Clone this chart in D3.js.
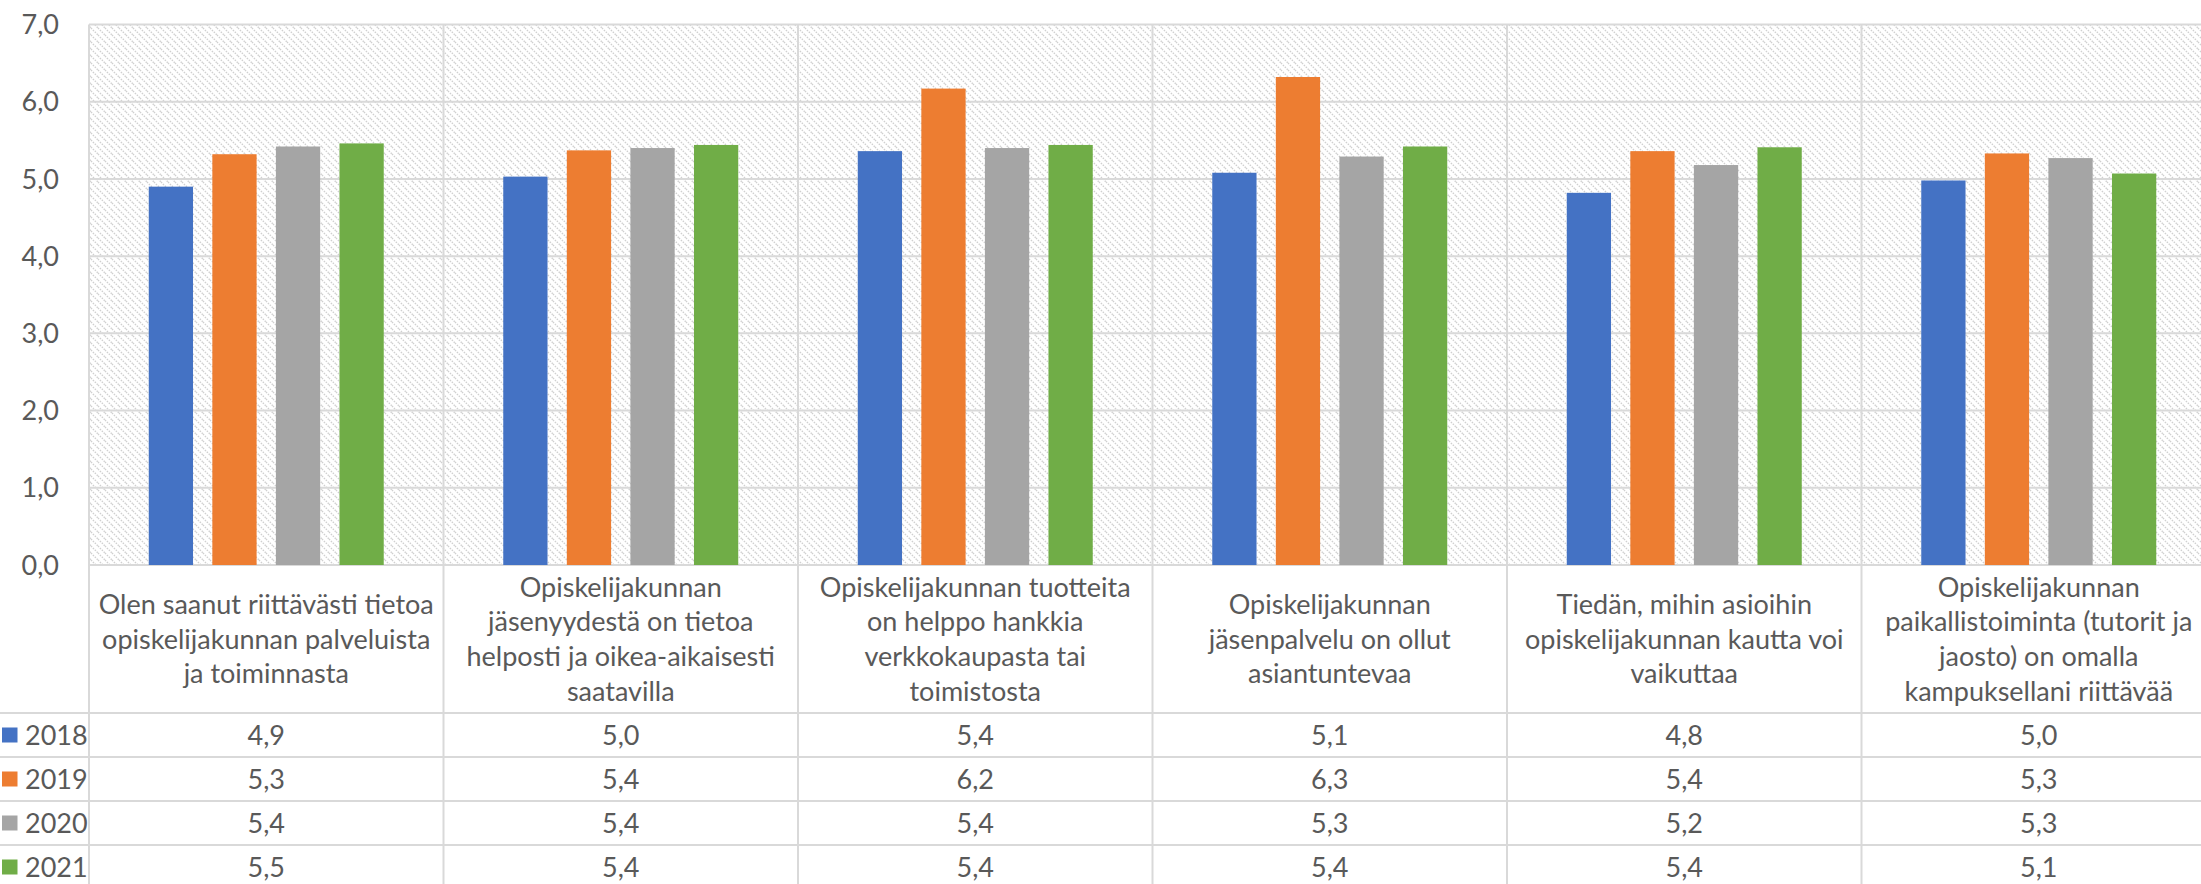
<!DOCTYPE html>
<html>
<head>
<meta charset="utf-8">
<script src="https://cdn.jsdelivr.net/npm/d3@7"></script>
<style>
  html, body { margin: 0; padding: 0; background: #ffffff; overflow: hidden; }
  svg { display: block; }
  text { font-family: Lato, "Open Sans", sans-serif; fill: #595959; }
</style>
</head>
<body>
<svg id="chart" width="2201" height="884"></svg>
<script>
// ---- data ----
const categories = [
  "Olen saanut riittävästi tietoa opiskelijakunnan palveluista ja toiminnasta",
  "Opiskelijakunnan jäsenyydestä on tietoa helposti ja oikea-aikaisesti saatavilla",
  "Opiskelijakunnan tuotteita on helppo hankkia verkkokaupasta tai toimistosta",
  "Opiskelijakunnan jäsenpalvelu on ollut asiantuntevaa",
  "Tiedän, mihin asioihin opiskelijakunnan kautta voi vaikuttaa",
  "Opiskelijakunnan paikallistoiminta (tutorit ja jaosto) on omalla kampuksellani riittävää"
];
const categoryLines = [
  ["Olen saanut riittävästi tietoa", "opiskelijakunnan palveluista", "ja toiminnasta"],
  ["Opiskelijakunnan", "jäsenyydestä on tietoa", "helposti ja oikea-aikaisesti", "saatavilla"],
  ["Opiskelijakunnan tuotteita", "on helppo hankkia", "verkkokaupasta tai", "toimistosta"],
  ["Opiskelijakunnan", "jäsenpalvelu on ollut", "asiantuntevaa"],
  ["Tiedän, mihin asioihin", "opiskelijakunnan kautta voi", "vaikuttaa"],
  ["Opiskelijakunnan", "paikallistoiminta (tutorit ja", "jaosto) on omalla", "kampuksellani riittävää"]
];
const seriesNames = ["2018", "2019", "2020", "2021"];
const values2018 = [4.90, 5.03, 5.36, 5.08, 4.82, 4.98];
const values2019 = [5.32, 5.37, 6.17, 6.32, 5.36, 5.33];
const values2020 = [5.42, 5.40, 5.40, 5.29, 5.18, 5.27];
const values2021 = [5.46, 5.44, 5.44, 5.42, 5.41, 5.07];
const seriesValues = [values2018, values2019, values2020, values2021];
const seriesColors = ["#4472C4", "#ED7D31", "#A5A5A5", "#70AD47"];
const yTicks = [0, 1, 2, 3, 4, 5, 6, 7];

// ---- layout ----
const W = 2201, H = 884;
const plotLeft = 89, plotRight = 2216, plotTop = 24.5, plotBottom = 565;
const headerBottom = 713, rowH = 44;
const fs = 27, lineH = 34.7, capOff = 9.7;
const gridColor = "#D9D9D9";

const svg = d3.select("#chart");
const fiLocale = d3.formatLocale({decimal: ",", thousands: "\u00a0", grouping: [3], currency: ["", "€"]});
const fmt = fiLocale.format(".1f");

const defs = svg.append("defs");
const pat = defs.append("pattern")
  .attr("id", "hatch").attr("patternUnits", "userSpaceOnUse")
  .attr("width", 7).attr("height", 7);
pat.append("rect").attr("width", 7).attr("height", 7).attr("fill", "#ffffff");
pat.selectAll("line").data([[0,0,7,7],[-1,6,1,8],[6,-1,8,1]]).join("line")
  .attr("x1", d => d[0]).attr("y1", d => d[1]).attr("x2", d => d[2]).attr("y2", d => d[3])
  .attr("stroke", "#D0D0D0").attr("stroke-width", 1.4).attr("stroke-dasharray", "1.5,1.2");

svg.append("rect").attr("width", W).attr("height", H).attr("fill", "#ffffff");

const x = d3.scaleBand().domain(categories).range([plotLeft, plotRight]).padding(0);
const xs = d3.scaleBand().domain(seriesNames).range([0, x.bandwidth()])
  .paddingInner(0.3036).paddingOuter(0.94);
const y = d3.scaleLinear().domain([0, 7]).range([plotBottom, plotTop]);

// plot background
svg.append("rect")
  .attr("x", plotLeft).attr("y", plotTop)
  .attr("width", plotRight - plotLeft).attr("height", plotBottom - plotTop)
  .attr("fill", "url(#hatch)");

// horizontal gridlines
svg.append("g").selectAll("line").data(yTicks).join("line")
  .attr("x1", plotLeft).attr("x2", plotRight)
  .attr("y1", d => y(d)).attr("y2", d => y(d))
  .attr("stroke", gridColor).attr("stroke-width", 2);

// vertical dividers (plot + table)
const dividers = categories.map(c => x(c)).concat([x(categories[categories.length - 1]) + x.bandwidth()]);
svg.append("g").selectAll("line").data(dividers).join("line")
  .attr("x1", d => d).attr("x2", d => d)
  .attr("y1", plotTop).attr("y2", H + 10)
  .attr("stroke", gridColor).attr("stroke-width", 2);

// bars
const gBars = svg.append("g");
seriesNames.forEach((s, si) => {
  gBars.append("g").selectAll("rect").data(seriesValues[si]).join("rect")
    .attr("x", (d, i) => x(categories[i]) + xs(s))
    .attr("width", xs.bandwidth())
    .attr("y", d => y(d))
    .attr("height", d => y(0) - y(d))
    .attr("fill", seriesColors[si]);
});

// y-axis labels
svg.append("g").selectAll("text").data(yTicks).join("text")
  .attr("x", 59).attr("y", d => y(d) + capOff)
  .attr("text-anchor", "end").attr("font-size", fs)
  .text(d => fmt(d));

// table row lines
const rowLines = d3.range(seriesNames.length + 1).map(i => headerBottom + i * rowH);
svg.append("g").selectAll("line").data(rowLines).join("line")
  .attr("x1", 0).attr("x2", plotRight)
  .attr("y1", d => d).attr("y2", d => d)
  .attr("stroke", gridColor).attr("stroke-width", 2);

// category header labels
const headerMid = (plotBottom + headerBottom) / 2;
categoryLines.forEach((lines, ci) => {
  const cx = x(categories[ci]) + x.bandwidth() / 2;
  svg.append("g").selectAll("text").data(lines).join("text")
    .attr("x", cx)
    .attr("y", (d, i) => headerMid + (i - (lines.length - 1) / 2) * lineH + capOff)
    .attr("text-anchor", "middle").attr("font-size", fs)
    .text(d => d);
});

// table values + legend
seriesNames.forEach((s, si) => {
  const rowMid = headerBottom + si * rowH + rowH / 2;
  svg.append("rect")
    .attr("x", 2).attr("y", rowMid - 7.5).attr("width", 15.5).attr("height", 15)
    .attr("fill", seriesColors[si]);
  svg.append("text")
    .attr("x", 25).attr("y", rowMid + capOff)
    .attr("font-size", fs).text(s);
  svg.append("g").selectAll("text").data(seriesValues[si]).join("text")
    .attr("x", (d, i) => x(categories[i]) + x.bandwidth() / 2)
    .attr("y", rowMid + capOff)
    .attr("text-anchor", "middle").attr("font-size", fs)
    .text(d => fmt(d));
});
</script>
</body>
</html>
